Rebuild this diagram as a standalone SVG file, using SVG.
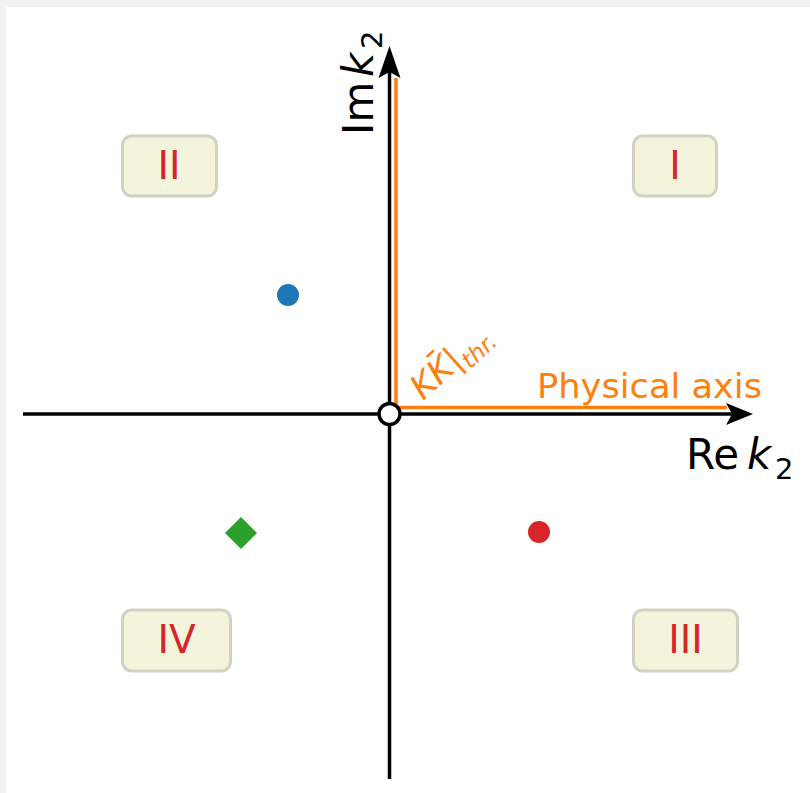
<svg xmlns="http://www.w3.org/2000/svg" width="810" height="793" viewBox="0 0 810 793">
<style>
.axis{stroke:#000;stroke-width:3.5;fill:none}
.phys{stroke:#ff7f0e;stroke-width:3.5;fill:none}
.box{fill:#f4f4dd;stroke:#d2d2c4;stroke-width:3}
.roman{font-family:"DejaVu Sans",sans-serif;font-size:39px;fill:#d62728;text-anchor:middle}
.lab{font-family:"DejaVu Sans",sans-serif;fill:#000}
.or{font-family:"DejaVu Sans",sans-serif;fill:#ff7f0e}
</style>
<rect x="0" y="0" width="810" height="793" fill="#f2f2f2"/>
<rect x="6" y="7" width="804" height="786" fill="#ffffff"/>
<g id="connectors">
  <line class="axis" x1="23" y1="414" x2="735" y2="414"/>
  <path d="M753,414 L726,403 L732,414 L726,425 Z" fill="#000"/>
  <line class="axis" x1="389.5" y1="779" x2="389.5" y2="66"/>
  <path d="M389.5,46 L378.5,78 L389.5,72 L400.5,78 Z" fill="#000"/>
  <path class="phys" d="M396,78 L396,407.5 L727,407.5"/>
</g>
<g id="origin"><circle cx="389.5" cy="414" r="10.5" fill="#fff" stroke="#000" stroke-width="3.5"/></g>
<g id="blue"><circle cx="288" cy="295" r="11" fill="#1f77b4"/></g>
<g id="red"><circle cx="539" cy="532" r="11" fill="#d62728"/></g>
<g id="green"><path d="M241,517 L257,533 L241,549 L225,533 Z" fill="#2ca02c"/></g>
<g id="regionII"><rect class="box" x="122.5" y="136" width="94" height="60" rx="9"/><text class="roman" x="169" y="179">II</text></g>
<g id="regionI"><rect class="box" x="633.5" y="136" width="83" height="60" rx="9"/><text class="roman" x="675" y="179">I</text></g>
<g id="regionIV"><rect class="box" x="122.5" y="610" width="108" height="61" rx="9"/><text class="roman" x="176.5" y="653">IV</text></g>
<g id="regionIII"><rect class="box" x="633.5" y="610" width="104" height="61" rx="9"/><text class="roman" x="685.5" y="653">III</text></g>
<g id="relabel"><text class="lab" x="686" y="469" font-size="42">Re<tspan x="747" font-style="italic">k</tspan><tspan x="775" y="479" font-size="29">2</tspan></text></g>
<g id="imlabel" transform="translate(373,135) rotate(-90)"><text class="lab" x="0" y="0" font-size="42">Im<tspan x="58" font-style="italic">k</tspan><tspan x="86" y="9" font-size="29">2</tspan></text></g>
<g id="physlabel"><text class="or" x="537" y="398" font-size="33" textLength="225" lengthAdjust="spacingAndGlyphs">Physical axis</text></g>
<g id="thrlabel" transform="translate(423,401) rotate(-42)"><text class="or" x="0" y="0" font-size="34"><tspan font-style="italic">KK̄</tspan>|<tspan font-style="italic" font-size="23" y="8">thr.</tspan></text></g>
</svg>
